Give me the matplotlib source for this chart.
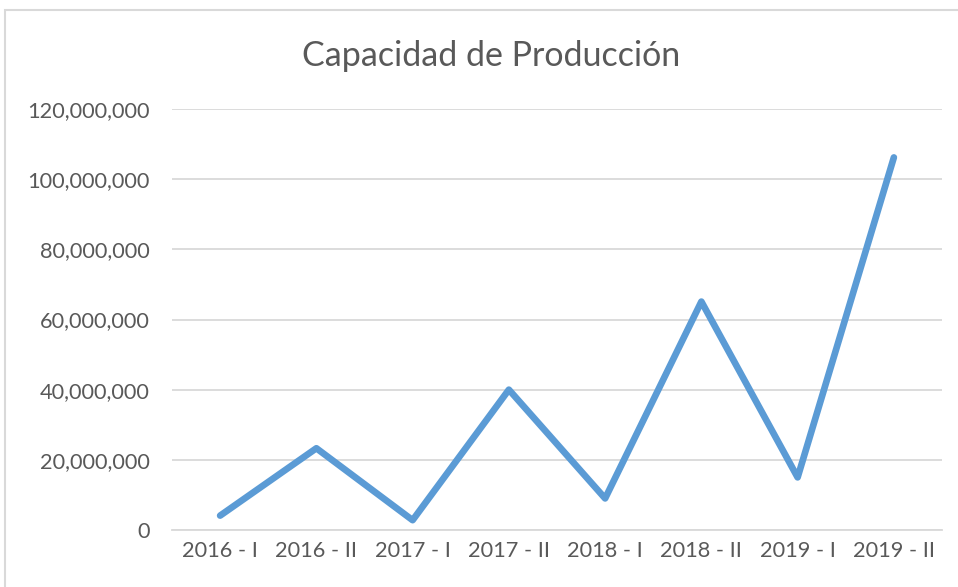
import matplotlib
matplotlib.use('Agg')
import matplotlib.pyplot as plt
from matplotlib.patches import Rectangle
from matplotlib.ticker import FuncFormatter

# Datos
periodos = ['2016 - I', '2016 - II', '2017 - I', '2017 - II',
            '2018 - I', '2018 - II', '2019 - I', '2019 - II']
capacidad = [4100000, 23300000, 2800000, 40000000,
             9000000, 65100000, 15000000, 106200000]

plt.rcParams['font.family'] = ['Lato', 'DejaVu Sans']

fig = plt.figure(figsize=(9.58, 5.87), dpi=100)
ax = fig.add_axes([172/958, 1-530/587, (942-172)/958, (530-109)/587])

# Borde del area del grafico (estilo Excel)
fig.patches.append(Rectangle((5/958, -0.1), 1.2, (587-10)/587 + 0.1,
                             transform=fig.transFigure, fill=False,
                             edgecolor='#D9D9D9', linewidth=1.5))

ax.plot(range(len(periodos)), capacidad, color='#5B9BD5', linewidth=4.8,
        solid_capstyle='round', solid_joinstyle='round', zorder=3)

ax.set_xlim(-0.5, len(periodos) - 0.5)
ax.set_ylim(0, 120000000)
ax.set_yticks(range(0, 120000001, 20000000))
ax.yaxis.set_major_formatter(FuncFormatter(lambda v, p: f'{int(v):,}'))
ax.set_xticks(range(len(periodos)))
ax.set_xticklabels(periodos)

ax.grid(axis='y', color='#D9D9D9', linewidth=1.3)
ax.set_axisbelow(True)
for s in ['top', 'right', 'left']:
    ax.spines[s].set_visible(False)
ax.spines['bottom'].set_color('#D9D9D9')
ax.spines['bottom'].set_linewidth(1.3)
ax.tick_params(length=0, colors='#595959', labelsize=15.7)
ax.tick_params(axis='y', pad=16)
ax.tick_params(axis='x', pad=8)

fig.text(491/958, 1-56/587, 'Capacidad de Producción', ha='center', va='center',
         fontsize=24.5, color='#595959')

fig.savefig('out.png', dpi=100)
